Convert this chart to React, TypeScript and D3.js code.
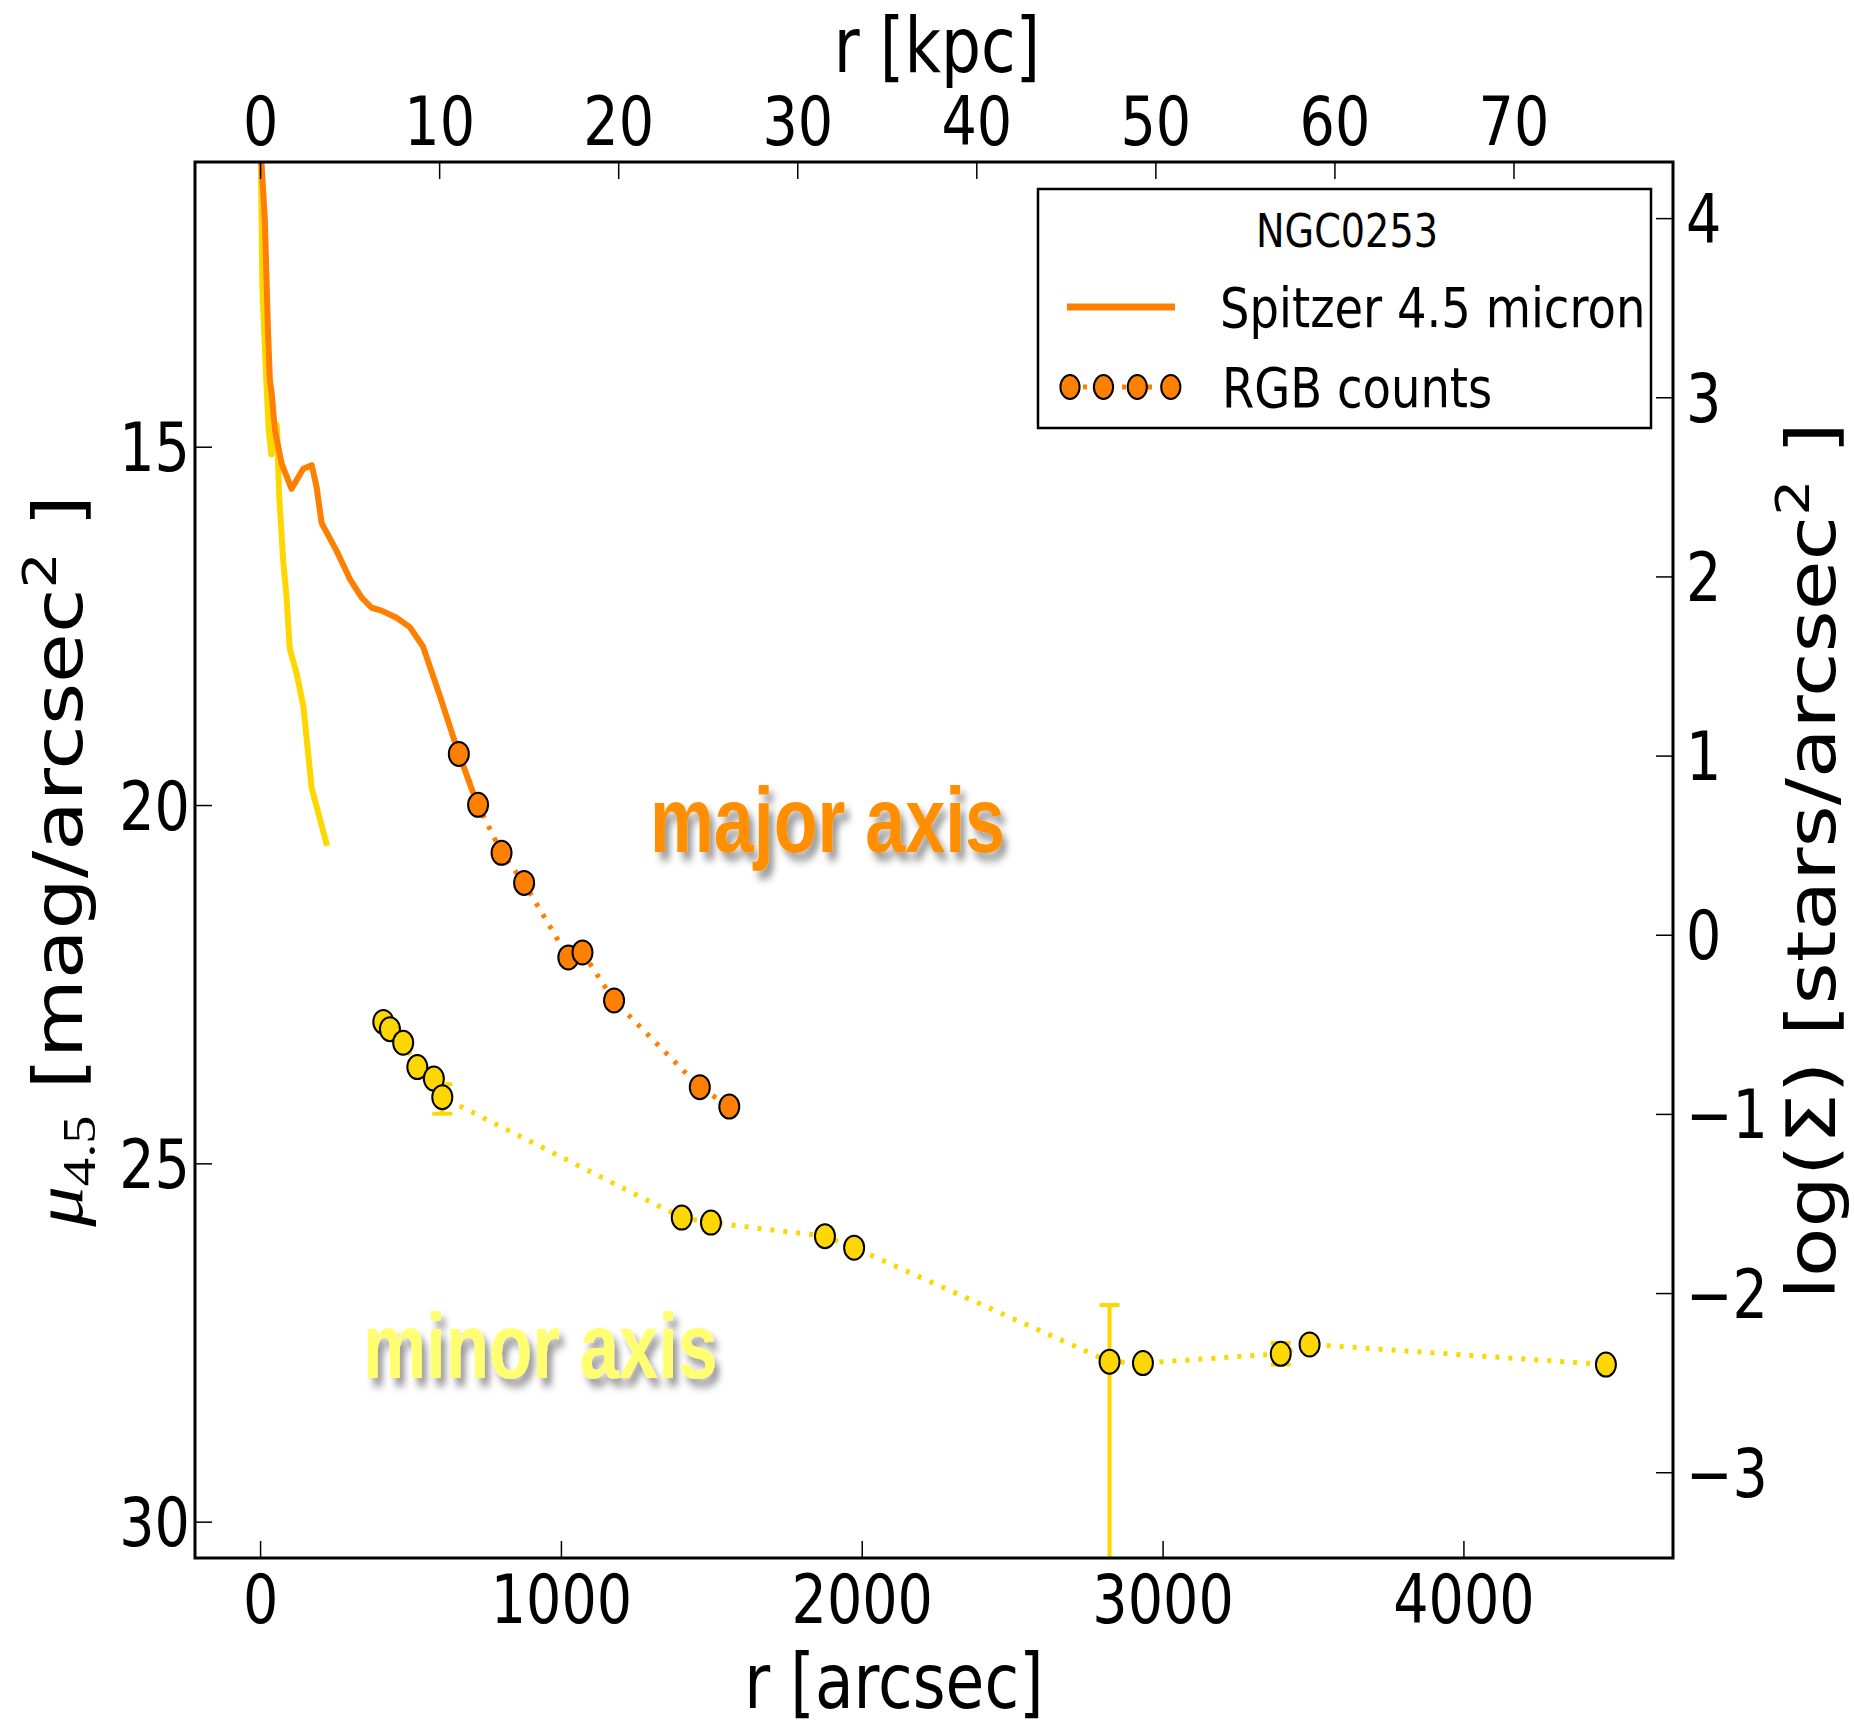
import React from "react";
import * as d3 from "d3";

// NGC 253 surface-brightness profiles along the major and minor axes:
// Spitzer 4.5 micron photometry (solid) and RGB star counts (points, dotted).

const W = 1854;
const H = 1726;
const frame = { left: 195, right: 1673, top: 162, bottom: 1558 };

const xDomain = [-218, 4695]; // arcsec
const muDomain = [11.02, 30.5]; // mag/arcsec^2
const ARCSEC_PER_KPC = 59.52;
const MU_AT_LOGSIGMA_ZERO = 21.81;

const arcsecTicks = [0, 1000, 2000, 3000, 4000];
const kpcTicks = [0, 10, 20, 30, 40, 50, 60, 70];
const muTicks = [15, 20, 25, 30];
const logSigmaTicks = [4, 3, 2, 1, 0, -1, -2, -3];

// Spitzer 4.5 micron, major axis
const spitzerMajorR = [0, 3, 14, 25, 31, 37, 47.5, 70, 103, 142, 170, 186, 203, 253, 297, 336, 369, 402, 452, 496, 540, 596, 651, 707];
const spitzerMajorMu = [9.0, 11.02, 11.82, 13.42, 14.07, 14.25, 14.76, 15.23, 15.58, 15.3, 15.25, 15.55, 16.06, 16.45, 16.84, 17.1, 17.24, 17.28, 17.38, 17.51, 17.78, 18.47, 19.18, 19.83];

// Spitzer 4.5 micron, minor axis
const spitzerMinorR = [0, 1, 6, 19, 27, 36, 54, 62, 75, 86, 97, 120, 142, 170, 221];
const spitzerMinorMu = [9.0, 11.0, 12.78, 14.07, 14.76, 15.1, 14.69, 15.69, 16.58, 17.07, 17.81, 18.16, 18.61, 19.76, 20.56];

// RGB star counts, major axis
const rgbMajorR = [659, 723, 801, 876, 1023, 1070, 1175, 1460, 1558];
const rgbMajorMu = [19.28, 19.99, 20.66, 21.08, 22.12, 22.05, 22.72, 23.93, 24.2];

// RGB star counts, minor axis (with asymmetric errors in magnitudes)
const rgbMinorR = [408, 430, 474, 521, 576, 604, 1400, 1497, 1876, 1973, 2822, 2933, 3391, 3487, 4472];
const rgbMinorMu = [23.02, 23.12, 23.31, 23.65, 23.81, 24.07, 25.75, 25.82, 26.01, 26.17, 27.76, 27.78, 27.65, 27.52, 27.8];
const rgbMinorErrBright = [0, 0, 0, 0, 0, 0.18, 0, 0, 0, 0, 0.79, 0, 0.15, 0, 0];
const rgbMinorErrFaint = [0, 0, 0, 0, 0, 0.23, 0, 0, 0, 0, 5.0, 0, 0.15, 0, 0];

const ORANGE = "#ff7f00";
const GOLD = "#ffd700";
const SQ = 0.83; // horizontal condensation of the figure text
const FONT = "DejaVu Sans";

type STextProps = {
  x: number;
  y: number;
  size: number;
  anchor?: "start" | "middle" | "end";
  rotate?: number;
  sx?: number;
  family?: string;
  weight?: string | number;
  fill?: string;
  filter?: string;
  children: React.ReactNode;
};

function SText({ x, y, size, anchor = "middle", rotate = 0, sx = SQ, family = FONT, weight, fill = "#000", filter, children }: STextProps) {
  const tr = `translate(${x},${y}) scale(${sx},1)` + (rotate ? ` rotate(${rotate})` : "");
  return (
    <g transform={tr}>
      <text
        textAnchor={anchor}
        fontSize={size}
        fontFamily={family}
        fontWeight={weight}
        fill={fill}
        filter={filter}
        style={{ whiteSpace: "pre" }}
      >
        {children}
      </text>
    </g>
  );
}

export default function App() {
  const x = d3.scaleLinear().domain(xDomain).range([frame.left, frame.right]);
  const y = d3.scaleLinear().domain(muDomain).range([frame.top, frame.bottom]);
  const xKpc = d3
    .scaleLinear()
    .domain(xDomain.map((d) => d / ARCSEC_PER_KPC))
    .range([frame.left, frame.right]);
  const yLog = d3
    .scaleLinear()
    .domain(muDomain.map((m) => (MU_AT_LOGSIGMA_ZERO - m) / 2.5))
    .range([frame.top, frame.bottom]);

  const line = d3
    .line<[number, number]>()
    .x((d) => x(d[0]))
    .y((d) => y(d[1]));

  const zip = (a: number[], b: number[]) => a.map((v, i) => [v, b[i]] as [number, number]);

  const majorSpitzer = zip(spitzerMajorR, spitzerMajorMu);
  const minorSpitzer = zip(spitzerMinorR, spitzerMinorMu);
  const majorRgb = zip(rgbMajorR, rgbMajorMu);
  const minorRgb = zip(rgbMinorR, rgbMinorMu);

  const tickLen = 17;
  const tickFont = 67;
  const labelFont = 76;
  const sideLabelFont = 81;

  const markerRx = 10;
  const markerRy = 12;

  // legend geometry
  const lg = { x0: 1038, y0: 189, x1: 1651, y1: 428 };
  const legendMarkersX = [1070, 1103.5, 1137.3, 1170.8];

  return (
    <svg
      width={W}
      height={H}
      viewBox={`0 0 ${W} ${H}`}
      style={{ display: "block", position: "absolute", left: 0, top: 0, background: "#fff" }}
    >
      <defs>
        <clipPath id="plotArea">
          <rect x={frame.left} y={frame.top} width={frame.right - frame.left} height={frame.bottom - frame.top} />
        </clipPath>
        <filter id="textShadow" x="-20%" y="-40%" width="140%" height="200%">
          <feGaussianBlur in="SourceAlpha" stdDeviation="4" />
          <feOffset dx="7" dy="8" result="blur" />
          <feFlood floodColor="#000" floodOpacity="0.4" />
          <feComposite in2="blur" operator="in" />
          <feMerge>
            <feMergeNode />
            <feMergeNode in="SourceGraphic" />
          </feMerge>
        </filter>
      </defs>

      <rect x={0} y={0} width={W} height={H} fill="#fff" />

      {/* data */}
      <g clipPath="url(#plotArea)">
        <path d={line(minorSpitzer) || ""} fill="none" stroke={GOLD} strokeWidth={6} strokeLinejoin="round" />
        <path d={line(majorSpitzer) || ""} fill="none" stroke={ORANGE} strokeWidth={6} strokeLinejoin="round" />

        <path d={line(majorRgb) || ""} fill="none" stroke={ORANGE} strokeWidth={5} strokeDasharray="4 9" />
        {majorRgb.map((d, i) => (
          <ellipse key={`ma${i}`} cx={x(d[0])} cy={y(d[1])} rx={markerRx} ry={markerRy} fill={ORANGE} stroke="#000" strokeWidth={2} />
        ))}

        <path d={line(minorRgb) || ""} fill="none" stroke={GOLD} strokeWidth={5} strokeDasharray="4 9" />
        {minorRgb.map((d, i) => {
          const up = rgbMinorErrBright[i];
          const dn = rgbMinorErrFaint[i];
          if (!up && !dn) return null;
          const cx = x(d[0]);
          const yTop = y(d[1] - up);
          const yBot = y(d[1] + dn);
          return (
            <g key={`er${i}`} stroke={GOLD} strokeWidth={4}>
              <line x1={cx} x2={cx} y1={yTop} y2={yBot} />
              <line x1={cx - 10} x2={cx + 10} y1={yTop} y2={yTop} />
              <line x1={cx - 10} x2={cx + 10} y1={yBot} y2={yBot} />
            </g>
          );
        })}
        {minorRgb.map((d, i) => (
          <ellipse key={`mi${i}`} cx={x(d[0])} cy={y(d[1])} rx={markerRx} ry={markerRy} fill={GOLD} stroke="#000" strokeWidth={2} />
        ))}
      </g>

      {/* annotations */}
      <SText x={650} y={852} size={92} anchor="start" sx={0.78} family="Liberation Sans" weight="bold" fill="#ff8f00" filter="url(#textShadow)">
        major axis
      </SText>
      <SText x={363} y={1378} size={92} anchor="start" sx={0.77} family="Liberation Sans" weight="bold" fill="#ffff70" filter="url(#textShadow)">
        minor axis
      </SText>

      {/* frame */}
      <rect
        x={frame.left}
        y={frame.top}
        width={frame.right - frame.left}
        height={frame.bottom - frame.top}
        fill="none"
        stroke="#000"
        strokeWidth={3}
      />

      {/* bottom axis: arcsec */}
      {arcsecTicks.map((t) => (
        <g key={`b${t}`}>
          <line x1={x(t)} x2={x(t)} y1={frame.bottom} y2={frame.bottom - tickLen} stroke="#000" strokeWidth={1.5} />
          <SText x={x(t)} y={1623} size={tickFont}>
            {String(t)}
          </SText>
        </g>
      ))}
      {/* top axis: kpc */}
      {kpcTicks.map((t) => (
        <g key={`t${t}`}>
          <line x1={xKpc(t)} x2={xKpc(t)} y1={frame.top} y2={frame.top + tickLen} stroke="#000" strokeWidth={1.5} />
          <SText x={xKpc(t)} y={145} size={tickFont}>
            {String(t)}
          </SText>
        </g>
      ))}
      {/* left axis: mu */}
      {muTicks.map((t) => (
        <g key={`l${t}`}>
          <line x1={frame.left} x2={frame.left + tickLen} y1={y(t)} y2={y(t)} stroke="#000" strokeWidth={1.5} />
          <SText x={190} y={y(t) + 24} size={tickFont} anchor="end">
            {String(t)}
          </SText>
        </g>
      ))}
      {/* right axis: log Sigma */}
      {logSigmaTicks.map((t) => (
        <g key={`r${t}`}>
          <line x1={frame.right} x2={frame.right - tickLen} y1={yLog(t)} y2={yLog(t)} stroke="#000" strokeWidth={1.5} />
          <SText x={1686} y={yLog(t) + 24} size={tickFont} anchor="start">
            {t < 0 ? `\u2212${Math.abs(t)}` : String(t)}
          </SText>
        </g>
      ))}

      {/* axis titles */}
      <SText x={894} y={1708} size={labelFont}>
        r [arcsec]
      </SText>
      <SText x={937} y={72} size={labelFont}>
        r [kpc]
      </SText>
      <SText x={82} y={861} size={sideLabelFont} rotate={-90}>
        <tspan fontFamily="Liberation Serif" fontStyle="italic">μ</tspan>
        <tspan fontFamily="Liberation Serif" fontSize={sideLabelFont * 0.7} dy={sideLabelFont * 0.2}>
          4.5
        </tspan>
        <tspan dy={-sideLabelFont * 0.2}> [mag/arcsec</tspan>
        <tspan fontSize={sideLabelFont * 0.7} dy={-sideLabelFont * 0.38}>
          2
        </tspan>
        <tspan dy={sideLabelFont * 0.38}> ]</tspan>
      </SText>
      <SText x={1835} y={861} size={sideLabelFont} rotate={-90}>
        <tspan>log(Σ) [stars/arcsec</tspan>
        <tspan fontSize={sideLabelFont * 0.7} dy={-sideLabelFont * 0.38}>
          2
        </tspan>
        <tspan dy={sideLabelFont * 0.38}> ]</tspan>
      </SText>

      {/* legend */}
      <rect x={lg.x0} y={lg.y0} width={lg.x1 - lg.x0} height={lg.y1 - lg.y0} fill="#fff" stroke="#000" strokeWidth={2.5} />
      <SText x={1347} y={247} size={46}>
        NGC0253
      </SText>
      <line x1={1067} x2={1175} y1={307} y2={307} stroke={ORANGE} strokeWidth={7} />
      <SText x={1220} y={327} size={56} anchor="start">
        Spitzer 4.5 micron
      </SText>
      <line
        x1={legendMarkersX[0]}
        x2={legendMarkersX[legendMarkersX.length - 1]}
        y1={387}
        y2={387}
        stroke={ORANGE}
        strokeWidth={5}
        strokeDasharray="4 9"
      />
      {legendMarkersX.map((mx, i) => (
        <ellipse key={`lm${i}`} cx={mx} cy={387} rx={9.6} ry={12} fill={ORANGE} stroke="#000" strokeWidth={2} />
      ))}
      <SText x={1222} y={407} size={56} anchor="start">
        RGB counts
      </SText>
    </svg>
  );
}
